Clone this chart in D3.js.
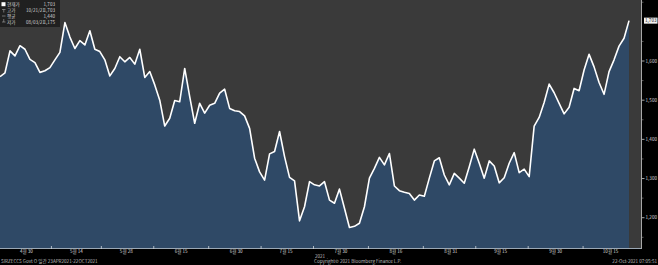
<!DOCTYPE html>
<html>
<head>
<meta charset="utf-8">
<script src="https://cdn.jsdelivr.net/npm/d3@7"></script>
<style>
  body { margin: 0; background: #000; }
  svg { display: block; font-family: "Noto Sans CJK KR", "Noto Sans", sans-serif; }
</style>
</head>
<body>
<div id="chart"></div>
<script>
// trading days, 23 Apr 2021 - 21 Oct 2021
var dates = [
  "2021-04-23","2021-04-26","2021-04-27","2021-04-28","2021-04-29","2021-04-30",
  "2021-05-03","2021-05-04","2021-05-05","2021-05-06","2021-05-07","2021-05-10","2021-05-11","2021-05-12","2021-05-13","2021-05-14",
  "2021-05-17","2021-05-18","2021-05-19","2021-05-20","2021-05-21","2021-05-24","2021-05-25","2021-05-26","2021-05-27","2021-05-28",
  "2021-06-01","2021-06-02","2021-06-03","2021-06-04","2021-06-07","2021-06-08","2021-06-09","2021-06-10","2021-06-11",
  "2021-06-14","2021-06-15","2021-06-16","2021-06-17","2021-06-18","2021-06-21","2021-06-22","2021-06-23","2021-06-24","2021-06-25",
  "2021-06-28","2021-06-29","2021-06-30",
  "2021-07-01","2021-07-02","2021-07-06","2021-07-07","2021-07-08","2021-07-09","2021-07-12","2021-07-13","2021-07-14","2021-07-15",
  "2021-07-16","2021-07-19","2021-07-20","2021-07-21","2021-07-22","2021-07-23","2021-07-26","2021-07-27","2021-07-28","2021-07-29","2021-07-30",
  "2021-08-02","2021-08-03","2021-08-04","2021-08-05","2021-08-06","2021-08-09","2021-08-10","2021-08-11","2021-08-12","2021-08-13",
  "2021-08-16","2021-08-17","2021-08-18","2021-08-19","2021-08-20","2021-08-23","2021-08-24","2021-08-25","2021-08-26","2021-08-27",
  "2021-08-30","2021-08-31",
  "2021-09-01","2021-09-02","2021-09-03","2021-09-07","2021-09-08","2021-09-09","2021-09-10","2021-09-13","2021-09-14","2021-09-15",
  "2021-09-16","2021-09-17","2021-09-20","2021-09-21","2021-09-22","2021-09-23","2021-09-24","2021-09-27","2021-09-28","2021-09-29","2021-09-30",
  "2021-10-01","2021-10-04","2021-10-05","2021-10-06","2021-10-07","2021-10-08","2021-10-11","2021-10-12","2021-10-13","2021-10-14","2021-10-15",
  "2021-10-18","2021-10-19","2021-10-20","2021-10-21"
];

var values = [
  1560, 1570, 1626, 1613, 1639, 1630, 1604, 1596, 1571, 1575,
  1583, 1603, 1622, 1698, 1661, 1632, 1652, 1641, 1677, 1630,
  1624, 1603, 1562, 1581, 1611, 1598, 1609, 1592, 1630, 1558,
  1573, 1539, 1500, 1434, 1454, 1499, 1496, 1581, 1509, 1441,
  1492, 1467, 1487, 1492, 1518, 1528, 1479, 1473, 1471, 1460,
  1428, 1352, 1317, 1296, 1363, 1369, 1420, 1356, 1303, 1294,
  1192, 1228, 1292, 1284, 1281, 1292, 1245, 1237, 1273, 1224,
  1175, 1178, 1186, 1228, 1301, 1326, 1354, 1335, 1364, 1281,
  1269, 1265, 1262, 1245, 1258, 1255, 1301, 1345, 1353, 1309,
  1284, 1313, 1301, 1288, 1330, 1375, 1339, 1301, 1345, 1332,
  1289, 1302, 1339, 1366, 1315, 1324, 1305, 1434, 1456, 1494,
  1541, 1519, 1492, 1465, 1482, 1530, 1524, 1577, 1617, 1585,
  1545, 1515, 1573, 1603, 1638, 1658, 1703
];

var xTickDates = ["2021-04-30","2021-05-14","2021-05-28","2021-06-15","2021-06-30","2021-07-15",
                  "2021-07-30","2021-08-16","2021-08-31","2021-09-15","2021-09-30","2021-10-15"];
var xTickLabels = ["4월 30","5월 14","5월 28","6월 15","6월 30","7월 15",
                   "7월 30","8월 16","8월 31","9월 15","9월 30","10월 15"];
var yTicks = [1200, 1300, 1400, 1500, 1600];
var yMinorTicks = [1150, 1250, 1350, 1450, 1550, 1650, 1750];

var legendNames = ["현재가", "고가", "평균", "저가"];
var legendDates = ["", "10/21/21", "", "08/03/21"];
var legendValues = ["1,703", "1,703", "1,440", "1,175"];

var width = 658, height = 265;
var plot = {left: 0, top: 0, right: 641, bottom: 248};

var svg = d3.select("#chart").append("svg")
    .attr("width", width)
    .attr("height", height);

svg.append("rect").attr("width", width).attr("height", height).style("fill", "#000");

var x = d3.scaleLinear()
    .domain([0, 128.4])
    .range([plot.left, plot.right]);

var y = d3.scaleLinear()
    .domain([1122.7, 1755.7])
    .range([plot.bottom, plot.top]);

// plot background
svg.append("rect")
    .attr("x", plot.left).attr("y", plot.top)
    .attr("width", plot.right - plot.left)
    .attr("height", plot.bottom - plot.top)
    .style("fill", "#3a3a3a");

var area = d3.area()
    .x(function(d, i) { return x(i); })
    .y0(plot.bottom)
    .y1(function(d) { return y(d); });

var line = d3.line()
    .x(function(d, i) { return x(i); })
    .y(function(d) { return y(d); });

svg.append("path").datum(values)
    .attr("d", area)
    .style("fill", "#2f4966");

svg.append("path").datum(values)
    .attr("d", line)
    .style("fill", "none")
    .style("stroke", "#fff")
    .style("stroke-width", 1.6)
    .style("stroke-linejoin", "round");

// bottom axis
svg.append("line")
    .attr("x1", plot.left).attr("x2", plot.right)
    .attr("y1", plot.bottom + 0.5).attr("y2", plot.bottom + 0.5)
    .style("stroke", "#9aa7b4").style("stroke-width", 1);

var tickIdx = xTickDates.map(function(d) { return dates.indexOf(d); });

svg.append("g").selectAll("text")
    .data(xTickLabels)
    .enter().append("text")
    .attr("x", function(d, i) { return x(tickIdx[i]) + 1.5; })
    .attr("y", 253.2)
    .attr("text-anchor", "middle")
    .style("font-size", "4.6px")
    .style("fill", "#d8d8d8")
    .text(function(d) { return d; });

svg.append("g").selectAll("line")
    .data(tickIdx.slice(1))
    .enter().append("line")
    .attr("x1", function(d, i) { return (x(tickIdx[i]) + x(d)) / 2 + 1.5; })
    .attr("x2", function(d, i) { return (x(tickIdx[i]) + x(d)) / 2 + 1.5; })
    .attr("y1", plot.bottom - 2).attr("y2", plot.bottom + 1)
    .style("stroke", "#cfd6dc").style("stroke-width", 0.8);

// right axis
svg.append("line")
    .attr("x1", plot.right + 0.5).attr("x2", plot.right + 0.5)
    .attr("y1", plot.top).attr("y2", plot.bottom + 1)
    .style("stroke", "#a8a8a8").style("stroke-width", 1);

svg.append("g").selectAll("line")
    .data(yTicks)
    .enter().append("line")
    .attr("x1", plot.right + 1).attr("x2", plot.right + 3.5)
    .attr("y1", function(d) { return y(d); })
    .attr("y2", function(d) { return y(d); })
    .style("stroke", "#cfcfcf").style("stroke-width", 0.8);

svg.append("g").selectAll("line")
    .data(yMinorTicks)
    .enter().append("line")
    .attr("x1", plot.right + 1).attr("x2", plot.right + 2.5)
    .attr("y1", function(d) { return y(d); })
    .attr("y2", function(d) { return y(d); })
    .style("stroke", "#9a9a9a").style("stroke-width", 0.6);

svg.append("g").selectAll("text")
    .data(yTicks)
    .enter().append("text")
    .attr("x", plot.right + 4.5)
    .attr("y", function(d) { return y(d) + 1.6; })
    .style("font-size", "4.6px")
    .style("fill", "#d8d8d8")
    .text(function(d) { return d3.format(",")(d); });

// last value tag
var last = values[values.length - 1];
svg.append("rect")
    .attr("x", plot.right + 3).attr("y", y(last) - 3)
    .attr("width", 13.5).attr("height", 6)
    .style("fill", "#f2f2f2");
svg.append("text")
    .attr("x", plot.right + 4).attr("y", y(last) + 1.6)
    .style("font-size", "4.6px")
    .style("fill", "#111")
    .text(d3.format(",")(last));

// legend
var leg = svg.append("g");
leg.append("rect")
    .attr("x", 0).attr("y", 0).attr("width", 60).attr("height", 27)
    .style("fill", "#1e1e1e").style("opacity", 0.9);

function rowY(i) { return 6.3 + i * 6; }

leg.selectAll("text.name")
    .data(legendNames)
    .enter().append("text")
    .attr("class", "name")
    .attr("x", 7)
    .attr("y", function(d, i) { return rowY(i); })
    .style("font-size", "4.6px")
    .style("fill", "#d0d0d0")
    .text(function(d) { return d; });

leg.selectAll("text.date")
    .data(legendDates)
    .enter().append("text")
    .attr("class", "date")
    .attr("x", 26)
    .attr("y", function(d, i) { return rowY(i); })
    .style("font-size", "4.6px")
    .style("fill", "#d0d0d0")
    .text(function(d) { return d; });

leg.selectAll("text.val")
    .data(legendValues)
    .enter().append("text")
    .attr("class", "val")
    .attr("x", 55)
    .attr("y", function(d, i) { return rowY(i); })
    .attr("text-anchor", "end")
    .style("font-size", "4.6px")
    .style("fill", "#d0d0d0")
    .text(function(d) { return d; });

leg.append("rect").attr("x", 1.5).attr("y", 2.2).attr("width", 4).attr("height", 4).style("fill", "#fff");
leg.append("path").attr("d", "M2,9.5H5.5M3.75,9.5V12.5")
    .style("stroke", "#aaa").style("stroke-width", 0.6).style("fill", "none");
leg.append("path").attr("d", "M2,16H5.5")
    .style("stroke", "#aaa").style("stroke-width", 0.6).style("fill", "none");
leg.append("path").attr("d", "M3.75,19V22M2,22H5.5")
    .style("stroke", "#aaa").style("stroke-width", 0.6).style("fill", "none");

// footer texts
svg.append("text").attr("x", 1).attr("y", 263)
    .style("font-size", "4.6px").style("fill", "#bdbdbd")
    .text("SIRZECCS Govt O  일간 23APR2021-22OCT2021");
svg.append("text").attr("x", 320).attr("y", 257.5).attr("text-anchor", "middle")
    .style("font-size", "4.6px").style("fill", "#bdbdbd")
    .text("2021");
svg.append("text").attr("x", 314).attr("y", 263.3)
    .style("font-size", "4.6px").style("fill", "#bdbdbd")
    .text("Copyright© 2021 Bloomberg Finance L.P.");
svg.append("text").attr("x", 657).attr("y", 263.3).attr("text-anchor", "end")
    .style("font-size", "4.6px").style("fill", "#bdbdbd")
    .text("22-Oct-2021 07:05:51");
</script>
</body>
</html>
